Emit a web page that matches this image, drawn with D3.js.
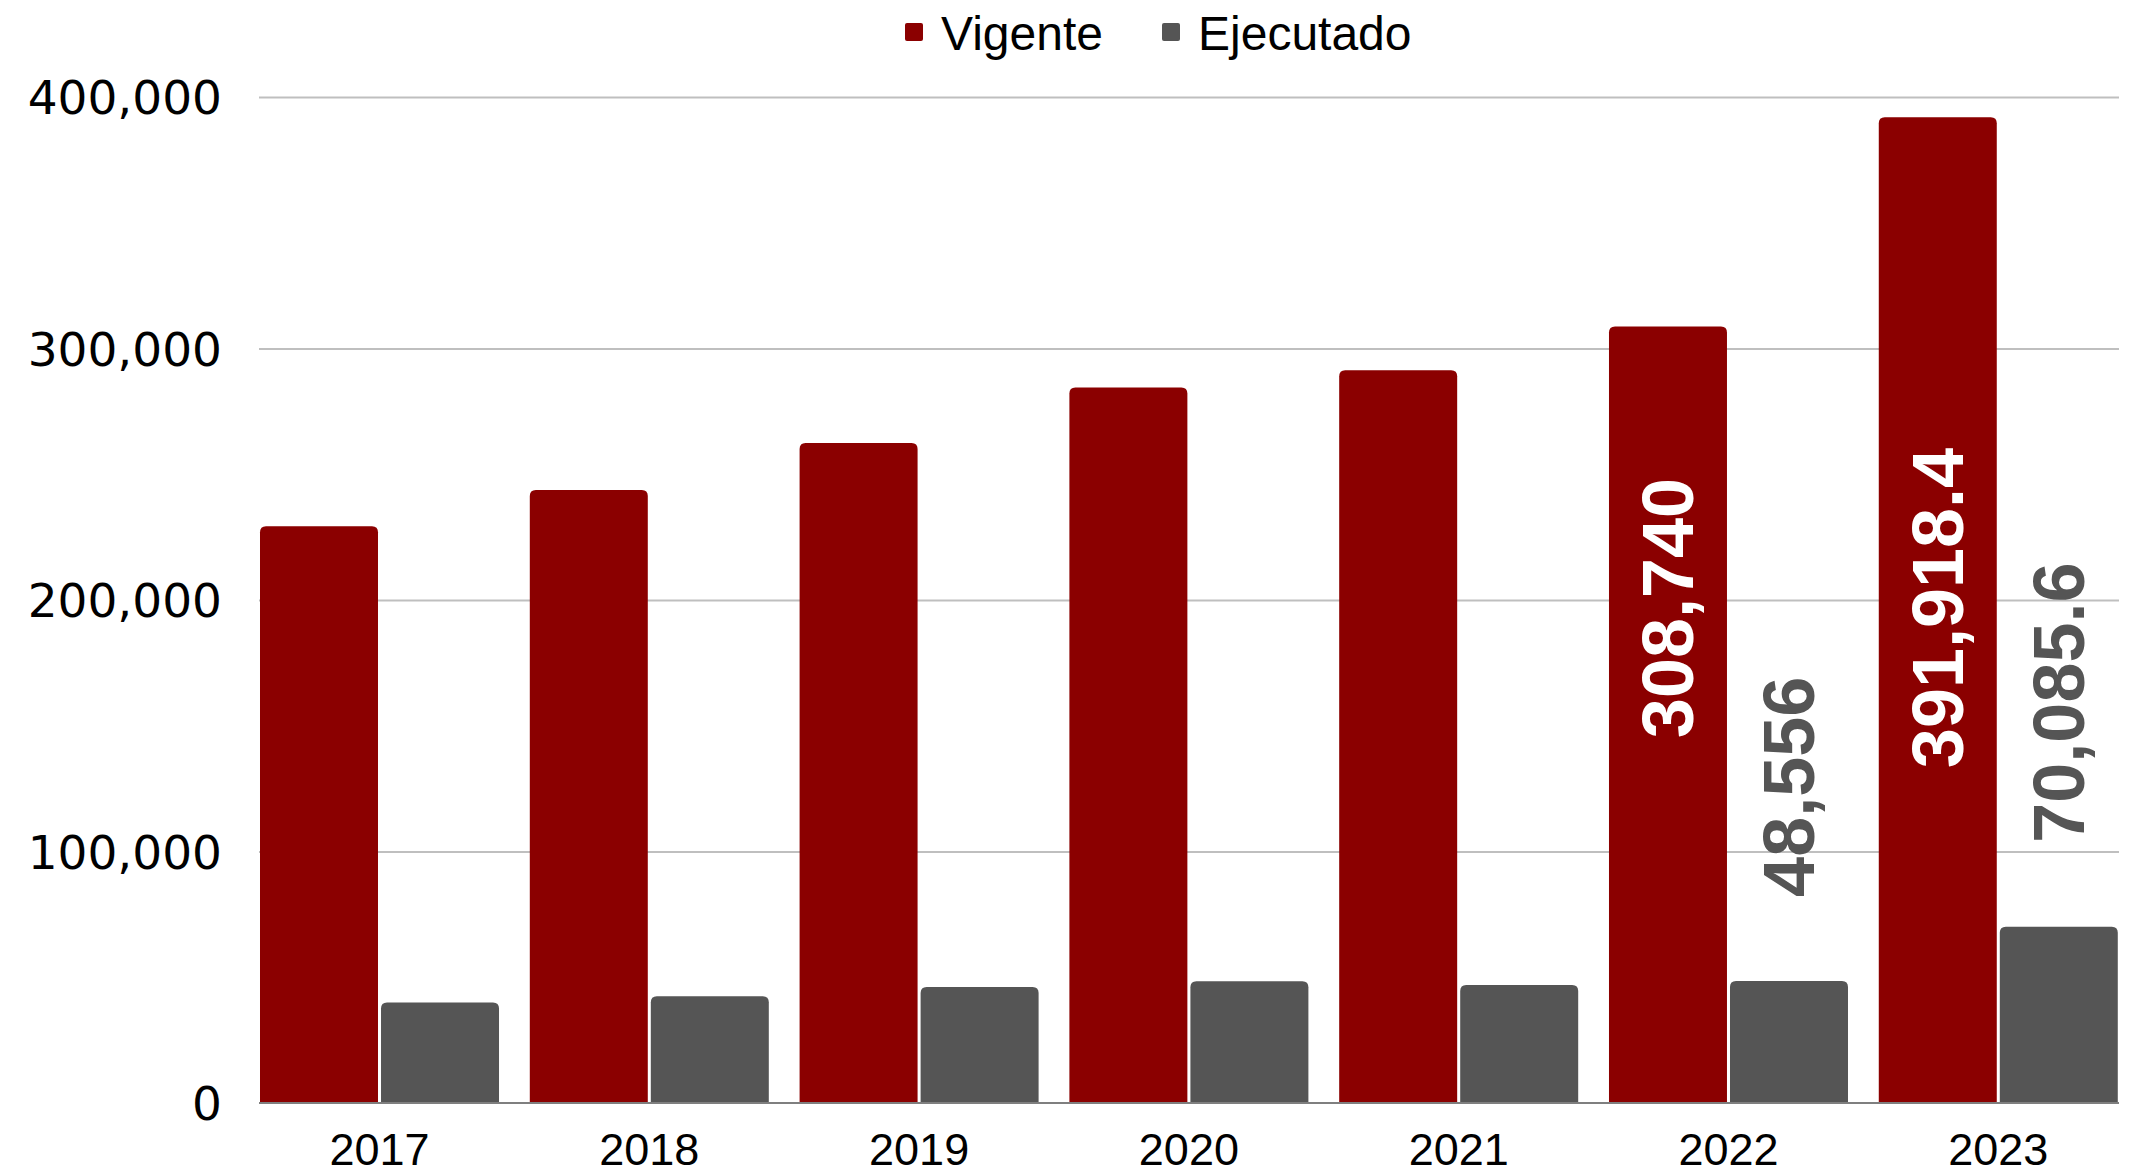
<!DOCTYPE html>
<html lang="es">
<head>
<meta charset="utf-8">
<title>Vigente vs Ejecutado</title>
<style>
  body { margin: 0; background: #fff; }
  .ytick text { font-family: "DejaVu Sans", sans-serif; font-size: 47px; fill: #000; }
  .xtick text { font-family: "Liberation Sans", Arial, sans-serif; font-size: 45px; fill: #000; }
  .legend text { font-family: "Liberation Sans", Arial, sans-serif; font-size: 48px; fill: #000; }
  .dlabel { font-family: "Liberation Sans", Arial, sans-serif; font-size: 72px; font-weight: bold; }
</style>
</head>
<body>
<script src="https://cdn.jsdelivr.net/npm/d3@7"></script>
<script>
// data
var years = ["2017", "2018", "2019", "2020", "2021", "2022", "2023"];
var series = ["Vigente", "Ejecutado"];
var vigente = [229300, 243700, 262400, 284500, 291400, 308740, 391918.4];
var ejecutado = [40000, 42400, 46100, 48400, 46900, 48556, 70085.6];
var yTicks = [0, 100000, 200000, 300000, 400000];
var labelledYears = ["2022", "2023"];

var colors = { Vigente: "#8b0000", Ejecutado: "#555555" };
var labelColors = { Vigente: "#ffffff", Ejecutado: "#555555" };

var width = 2135, height = 1176;
var plotLeft = 259, plotRight = 2119, plotTop = 97, plotBottom = 1103;

var svg = d3.select("body").append("svg")
    .attr("width", width)
    .attr("height", height);

// scales
var step = 269.8;
var x0 = d3.scaleBand()
    .domain(years)
    .range([plotLeft + 1 - step * 0.0571, plotLeft + 1 - step * 0.0571 + step * years.length])
    .paddingInner(0.1141)
    .paddingOuter(0.0571);

var x1 = d3.scaleBand()
    .domain(series)
    .range([0, x0.bandwidth()])
    .paddingInner(0.025);

var y = d3.scaleLinear()
    .domain([0, 400000])
    .range([plotBottom, plotTop]);

var rows = years.map(function(yr, i) {
    return { year: yr, Vigente: vigente[i], Ejecutado: ejecutado[i] };
});

// gridlines
svg.append("g")
    .attr("transform", "translate(" + plotLeft + ",0)")
    .call(d3.axisLeft(y).tickValues(yTicks.slice(1)).tickSize(-(plotRight - plotLeft)).tickFormat(""))
    .call(g => g.select(".domain").remove())
    .call(g => g.selectAll("line").attr("stroke", "#bfbfbf").attr("stroke-width", 2));

// y axis labels
svg.append("g")
    .attr("class", "ytick")
    .attr("transform", "translate(" + plotLeft + ",0)")
    .call(d3.axisLeft(y).tickValues(yTicks).tickSize(0).tickPadding(37).tickFormat(d3.format(",")))
    .call(g => g.select(".domain").remove())
    .call(g => g.selectAll("text").attr("dy", "0.36em"));

// bars with rounded tops
function topRounded(x, yy, w, h, r) {
    r = Math.min(r, h, w / 2);
    return "M" + x + "," + (yy + h) + "V" + (yy + r) +
        "Q" + x + "," + yy + " " + (x + r) + "," + yy +
        "H" + (x + w - r) +
        "Q" + (x + w) + "," + yy + " " + (x + w) + "," + (yy + r) +
        "V" + (yy + h) + "Z";
}

var groups = svg.append("g").selectAll("g")
    .data(rows)
    .join("g")
    .attr("transform", d => "translate(" + x0(d.year) + ",0)");

groups.selectAll("path")
    .data(d => series.map(s => ({ key: s, value: d[s], year: d.year })))
    .join("path")
    .attr("fill", d => colors[d.key])
    .attr("d", d => topRounded(x1(d.key), y(d.value), x1.bandwidth(), y(0) - y(d.value), 6));

// x axis line
svg.append("line")
    .attr("x1", plotLeft).attr("x2", plotRight)
    .attr("y1", plotBottom).attr("y2", plotBottom)
    .attr("stroke", "#7f7f7f")
    .attr("stroke-width", 2);

// x axis labels
svg.append("g")
    .attr("class", "xtick")
    .attr("transform", "translate(0," + plotBottom + ")")
    .call(d3.axisBottom(x0).tickSize(0).tickPadding(30))
    .call(g => g.select(".domain").remove());

// data labels, rotated
var midY = (y.range()[0] + y.range()[1]) / 2 + 8;
groups.filter(d => labelledYears.includes(d.year))
    .selectAll("text")
    .data(d => series.map(s => ({ key: s, value: d[s] })))
    .join("text")
    .attr("class", "dlabel")
    .attr("fill", d => labelColors[d.key])
    .attr("text-anchor", d => d.key === "Vigente" ? "middle" : "start")
    .attr("dy", "0.35em")
    .attr("transform", function(d) {
        var cx = x1(d.key) + x1.bandwidth() / 2;
        var cy = d.key === "Vigente" ? midY : y(d.value) - 84;
        return "translate(" + cx + "," + cy + ") rotate(-90)";
    })
    .text(d => d3.format(",")(d.value));

// legend
var legend = svg.append("g").attr("class", "legend");
var legendX = [905, 1162];
series.forEach(function(s, i) {
    legend.append("rect")
        .attr("x", legendX[i]).attr("y", 23)
        .attr("width", 18).attr("height", 18)
        .attr("rx", 2)
        .attr("fill", colors[s]);
    legend.append("text")
        .attr("x", legendX[i] + 36).attr("y", 50)
        .text(s);
});
</script>
</body>
</html>
